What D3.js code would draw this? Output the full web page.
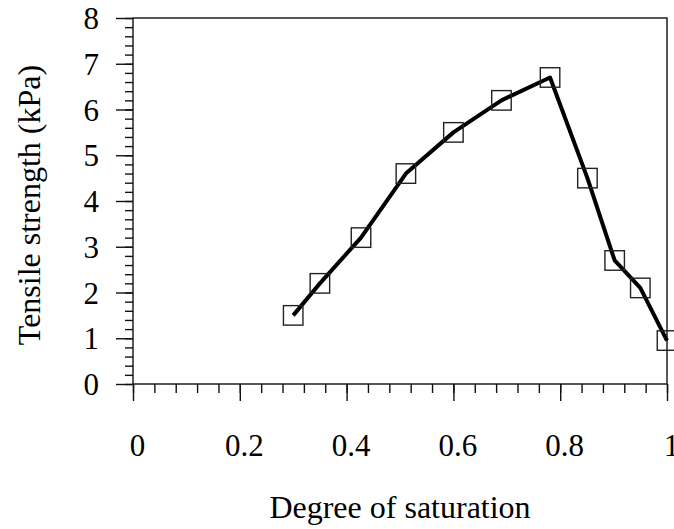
<!DOCTYPE html>
<html>
<head>
<meta charset="utf-8">
<script src="https://cdn.jsdelivr.net/npm/d3@7/dist/d3.min.js"></script>
<style>
  html, body { margin: 0; padding: 0; background: #fff; }
  svg { display: block; }
  text { font-family: "Liberation Serif", "Times New Roman", serif; fill: #000; }
</style>
</head>
<body>
<svg id="chart" width="674" height="529"></svg>
<script>
// Tensile strength measured at each degree of saturation
const saturation = [0.30, 0.35, 0.427, 0.511, 0.60, 0.69, 0.781, 0.851, 0.902, 0.95, 1.0];
const strength   = [1.50, 2.20, 3.20, 4.60, 5.50, 6.20, 6.70, 4.50, 2.70, 2.10, 0.95];

const xTicks = [0, 0.2, 0.4, 0.6, 0.8, 1];
const xTickLabels = ["0", "0.2", "0.4", "0.6", "0.8", "1"];
const yTicks = [0, 1, 2, 3, 4, 5, 6, 7, 8];
const yTickLabels = ["0", "1", "2", "3", "4", "5", "6", "7", "8"];

const svg = d3.select("#chart");
const L = 133, R = 667, T = 18, B = 384;

const x = d3.scaleLinear().domain([0, 1]).range([L, R]);
const y = d3.scaleLinear().domain([0, 8]).range([B, T]);

const axisColor = "#111";
const tickFont = "31px";
const titleFont = "32px";

// Plot frame
svg.append("rect")
  .attr("x", L).attr("y", T)
  .attr("width", R - L).attr("height", B - T)
  .attr("fill", "none").attr("stroke", axisColor).attr("stroke-width", 1.4);

// Minor ticks (5 subdivisions per major step)
const xMinor = d3.range(0, 1.0001, 0.04);
const yMinor = d3.range(0, 8.0001, 0.2);

const xAxisMinor = d3.axisBottom(x).tickValues(xMinor).tickSize(9).tickFormat("");
const xAxisMajor = d3.axisBottom(x).tickValues(xTicks).tickSize(17)
  .tickFormat((d, i) => xTickLabels[i]);
const yAxisMinor = d3.axisLeft(y).tickValues(yMinor).tickSize(8).tickFormat("");
const yAxisMajor = d3.axisLeft(y).tickValues(yTicks).tickSize(17)
  .tickFormat((d, i) => yTickLabels[i]).tickPadding(17);

function styleAxis(g) {
  g.select(".domain").remove();
  g.attr("font-family", null).attr("font-size", null);
  g.selectAll(".tick line").attr("stroke", axisColor).attr("stroke-width", 1.4);
  g.selectAll(".tick text").style("font-size", tickFont);
}

svg.append("g").attr("transform", `translate(0,${B})`).call(xAxisMinor).call(styleAxis);
const gx = svg.append("g").attr("transform", `translate(0,${B})`).call(xAxisMajor).call(styleAxis);
gx.selectAll(".tick text").attr("y", 72).attr("dy", 0).attr("dx", 4);
svg.append("g").attr("transform", `translate(${L},0)`).call(yAxisMinor).call(styleAxis);
const gy = svg.append("g").attr("transform", `translate(${L},0)`).call(yAxisMajor).call(styleAxis);
gy.selectAll(".tick text").attr("dy", "0.34em");

// Data line
const line = d3.line()
  .x((d, i) => x(saturation[i]))
  .y(d => y(d));

svg.append("path")
  .datum(strength)
  .attr("d", line)
  .attr("fill", "none")
  .attr("stroke", "#000")
  .attr("stroke-width", 4)
  .attr("stroke-linejoin", "round");

// Square markers
const size = 19.5;
svg.append("g").selectAll("rect")
  .data(strength)
  .join("rect")
  .attr("x", (d, i) => x(saturation[i]) - size / 2)
  .attr("y", d => y(d) - size / 2)
  .attr("width", size).attr("height", size)
  .attr("fill", "none")
  .attr("stroke", "#222")
  .attr("stroke-width", 1.4);

// Axis titles
svg.append("text")
  .attr("x", (L + R) / 2).attr("y", 518)
  .attr("text-anchor", "middle")
  .style("font-size", titleFont)
  .text("Degree of saturation");

svg.append("text")
  .attr("transform", `translate(40,${(T + B) / 2 + 4}) rotate(-90)`)
  .attr("text-anchor", "middle")
  .style("font-size", titleFont)
  .text("Tensile strength (kPa)");
</script>
</body>
</html>
